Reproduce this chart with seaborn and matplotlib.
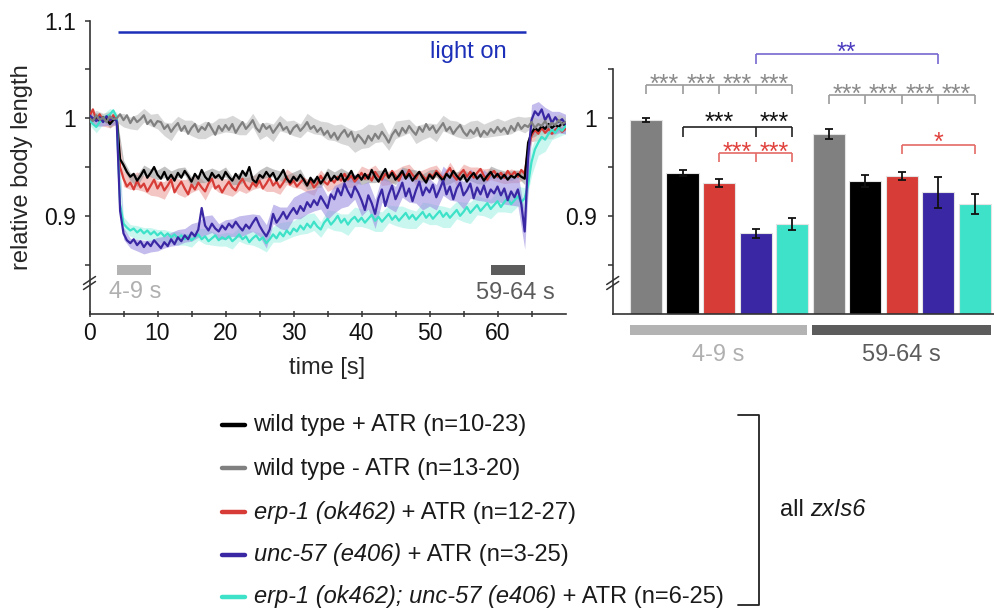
import numpy as np
import pandas as pd
import matplotlib
matplotlib.use("Agg")
import matplotlib.pyplot as plt
from matplotlib.patches import Rectangle
import seaborn as sns

# ---------------------------------------------------------------------------
# Time course of relative body length (mean per 0.5 s, 0-70 s)
# ---------------------------------------------------------------------------
gray_mean = [
    1.000, 0.997, 1.003, 0.998, 1.001, 0.996, 1.002, 0.999, 1.000,
    1.004, 0.998, 1.003, 0.995, 1.001, 0.996, 0.999, 1.003, 0.994, 0.998, 0.992, 0.997,
    0.996, 0.989, 0.993, 0.986, 0.991, 0.995, 0.987, 0.992, 0.984, 0.990, 0.994, 0.986, 0.991, 0.988, 0.995, 0.989, 0.983, 0.992, 0.987, 0.993,
    0.988, 0.994, 0.985, 0.991, 0.996, 0.989, 0.993, 0.998, 0.990, 0.986, 0.994, 0.989, 0.992, 0.985, 0.990, 0.995, 0.988, 0.991, 0.984, 0.990,
    0.993, 0.987, 0.991, 0.996, 0.989, 0.992, 0.986, 0.990, 0.983, 0.987, 0.980, 0.985, 0.978, 0.984, 0.988, 0.981, 0.986, 0.976, 0.983, 0.979,
    0.974, 0.982, 0.977, 0.984, 0.979, 0.986, 0.981, 0.975, 0.983, 0.988, 0.982, 0.990, 0.985, 0.992, 0.987, 0.983, 0.991, 0.986, 0.994, 0.988,
    0.992, 0.985, 0.990, 0.995, 0.987, 0.991, 0.984, 0.989, 0.993, 0.986, 0.982, 0.988, 0.984, 0.990, 0.981, 0.987, 0.983, 0.989, 0.985, 0.991,
    0.986, 0.990, 0.984, 0.992, 0.987, 0.995, 0.989, 0.993, 0.991, 0.996, 0.990, 0.994, 0.992, 0.997, 0.991, 0.995, 0.993, 0.998, 0.994, 0.996,
]
black_mean = [
    1.000, 0.998, 1.002, 0.997, 1.001, 0.999, 0.994, 0.998, 1.000,
    0.958, 0.952, 0.945, 0.940, 0.943, 0.936, 0.941, 0.947, 0.939, 0.944, 0.950, 0.942,
    0.938, 0.945, 0.937, 0.942, 0.936, 0.944, 0.939, 0.946, 0.941, 0.935, 0.943, 0.938, 0.947, 0.940, 0.936, 0.944, 0.939, 0.942, 0.937, 0.945,
    0.940, 0.936, 0.943, 0.938, 0.946, 0.941, 0.950, 0.937, 0.934, 0.942, 0.939, 0.945, 0.940, 0.944, 0.936, 0.941, 0.947, 0.938, 0.934, 0.940,
    0.936, 0.942, 0.937, 0.931, 0.939, 0.934, 0.940, 0.933, 0.938, 0.944, 0.936, 0.941, 0.937, 0.943, 0.935, 0.940, 0.946, 0.938, 0.942, 0.937,
    0.943, 0.938, 0.947, 0.940, 0.935, 0.942, 0.948, 0.939, 0.944, 0.937, 0.941, 0.946, 0.938, 0.943, 0.936, 0.941, 0.945, 0.939, 0.934, 0.942,
    0.938, 0.944, 0.940, 0.936, 0.943, 0.939, 0.946, 0.941, 0.937, 0.942, 0.935, 0.940, 0.944, 0.938, 0.942, 0.936, 0.941, 0.945, 0.939, 0.943,
    0.938, 0.942, 0.937, 0.941, 0.939, 0.943, 0.940, 0.938, 0.975, 0.985, 0.990, 0.987, 0.992, 0.989, 0.994, 0.990, 0.993, 0.991, 0.995, 0.992,
]
red_mean = [
    1.002, 1.009, 0.998, 1.004, 0.997, 1.001, 0.996, 1.003, 0.999,
    0.950, 0.938, 0.930, 0.934, 0.927, 0.936, 0.929, 0.933, 0.925, 0.931, 0.937, 0.928,
    0.934, 0.926, 0.931, 0.937, 0.924, 0.930, 0.935, 0.928, 0.922, 0.932, 0.927, 0.934, 0.929, 0.925, 0.933, 0.938, 0.928, 0.931, 0.924, 0.930,
    0.935, 0.929, 0.926, 0.933, 0.938, 0.931, 0.927, 0.934, 0.930, 0.936, 0.928, 0.933, 0.939, 0.931, 0.935, 0.929, 0.934, 0.940, 0.932, 0.936,
    0.930, 0.934, 0.938, 0.931, 0.936, 0.929, 0.933, 0.941, 0.935, 0.932, 0.938, 0.934, 0.940, 0.936, 0.943, 0.937, 0.941, 0.935, 0.939, 0.944,
    0.938, 0.942, 0.936, 0.945, 0.940, 0.937, 0.943, 0.939, 0.946, 0.941, 0.936, 0.944, 0.940, 0.947, 0.942, 0.938, 0.945, 0.941, 0.937, 0.943,
    0.940, 0.946, 0.942, 0.938, 0.944, 0.949, 0.941, 0.937, 0.943, 0.947, 0.940, 0.945, 0.939, 0.944, 0.948, 0.941, 0.937, 0.943, 0.946, 0.940,
    0.944, 0.939, 0.946, 0.941, 0.945, 0.940, 0.947, 0.943, 0.968, 0.982, 0.988, 0.984, 0.990, 0.985, 0.989, 0.984, 0.988, 0.991, 0.986, 0.989,
]
blue_mean = [
    1.003, 1.000, 0.997, 1.001, 0.996, 1.002, 0.998, 1.000, 0.997,
    0.905, 0.882, 0.875, 0.872, 0.876, 0.870, 0.874, 0.868, 0.873, 0.869, 0.875, 0.871,
    0.867, 0.873, 0.869, 0.876, 0.871, 0.878, 0.874, 0.880, 0.876, 0.883, 0.879, 0.886, 0.908, 0.890, 0.885, 0.892, 0.887, 0.884, 0.890, 0.886,
    0.892, 0.888, 0.894, 0.889, 0.885, 0.891, 0.887, 0.893, 0.898, 0.890, 0.884, 0.879, 0.886, 0.902, 0.893, 0.898, 0.904, 0.897, 0.903, 0.908,
    0.902, 0.910, 0.905, 0.914, 0.909, 0.916, 0.911, 0.920, 0.914, 0.908, 0.922, 0.917, 0.928, 0.921, 0.933, 0.925, 0.919, 0.930, 0.924, 0.916,
    0.906, 0.921, 0.913, 0.902, 0.918, 0.927, 0.910, 0.922, 0.931, 0.917, 0.925, 0.934, 0.920, 0.928, 0.915, 0.926, 0.935, 0.921, 0.929, 0.924,
    0.932, 0.919, 0.927, 0.936, 0.922, 0.930, 0.917, 0.928, 0.934, 0.921, 0.926, 0.933, 0.918, 0.929, 0.922, 0.931, 0.919, 0.927, 0.923, 0.930,
    0.921, 0.928, 0.916, 0.925, 0.919, 0.927, 0.912, 0.884, 0.960, 0.998, 1.007, 1.003, 1.009, 0.998, 1.004, 0.995, 1.001, 0.996, 0.999, 0.994,
]
cyan_mean = [
    0.998, 0.994, 0.991, 0.996, 0.999, 1.002, 1.004, 1.008, 1.001,
    0.912, 0.892, 0.888, 0.885, 0.887, 0.883, 0.886, 0.882, 0.885, 0.881, 0.884, 0.880,
    0.883, 0.879, 0.882, 0.878, 0.881, 0.877, 0.880, 0.876, 0.879, 0.875, 0.878, 0.881, 0.876, 0.879, 0.874, 0.877, 0.880, 0.875, 0.878, 0.876,
    0.879, 0.874, 0.877, 0.881, 0.876, 0.879, 0.873, 0.877, 0.880, 0.875, 0.878, 0.872, 0.876, 0.881, 0.877, 0.883, 0.879, 0.885, 0.881, 0.887,
    0.884, 0.890, 0.886, 0.892, 0.888, 0.894, 0.889, 0.886, 0.893, 0.897, 0.891, 0.895, 0.900, 0.893, 0.897, 0.891, 0.896, 0.899, 0.894, 0.898,
    0.893, 0.897, 0.901, 0.895, 0.899, 0.894, 0.898, 0.902, 0.896, 0.900, 0.895, 0.899, 0.903, 0.897, 0.901, 0.896, 0.900, 0.904, 0.898, 0.902,
    0.897, 0.901, 0.905, 0.899, 0.903, 0.898, 0.902, 0.906, 0.900, 0.904, 0.909, 0.903, 0.907, 0.911, 0.905, 0.909, 0.913, 0.907, 0.911, 0.915,
    0.909, 0.914, 0.918, 0.912, 0.916, 0.920, 0.914, 0.918, 0.932, 0.955, 0.968, 0.975, 0.981, 0.978, 0.984, 0.988, 0.985, 0.990, 0.987, 0.992,
]

# SEM per 1 s (0-70 s)
gray_sem = [
    0.004, 0.005, 0.004, 0.005, 0.004,
    0.007, 0.006, 0.008, 0.007, 0.006, 0.008, 0.007, 0.009, 0.007, 0.006,
    0.008, 0.007, 0.009, 0.006, 0.008, 0.007, 0.009, 0.008, 0.006, 0.007,
    0.008, 0.007, 0.009, 0.008, 0.006, 0.008, 0.007, 0.009, 0.008, 0.007,
    0.009, 0.008, 0.010, 0.009, 0.011, 0.010, 0.012, 0.009, 0.010, 0.008,
    0.009, 0.008, 0.007, 0.009, 0.008, 0.007, 0.009, 0.008, 0.007, 0.008,
    0.007, 0.009, 0.008, 0.007, 0.008, 0.009, 0.007, 0.008, 0.007, 0.008,
    0.006, 0.005, 0.006, 0.005, 0.006, 0.005,
]
black_sem = [
    0.003, 0.004, 0.003, 0.004, 0.003,
    0.005, 0.004, 0.006, 0.005, 0.004, 0.005, 0.006, 0.004, 0.005, 0.004,
    0.005, 0.004, 0.006, 0.005, 0.004, 0.005, 0.004, 0.006, 0.005, 0.004,
    0.005, 0.006, 0.004, 0.005, 0.004, 0.005, 0.006, 0.004, 0.005, 0.004,
    0.005, 0.004, 0.006, 0.005, 0.004, 0.005, 0.004, 0.006, 0.005, 0.004,
    0.005, 0.004, 0.005, 0.006, 0.004, 0.005, 0.004, 0.005, 0.006, 0.004,
    0.005, 0.004, 0.005, 0.004, 0.006, 0.005, 0.004, 0.005, 0.004, 0.006,
    0.005, 0.004, 0.005, 0.004, 0.005, 0.004,
]
red_sem = [
    0.005, 0.006, 0.005, 0.006, 0.005,
    0.008, 0.007, 0.009, 0.008, 0.010, 0.008, 0.009, 0.007, 0.008, 0.009,
    0.008, 0.007, 0.009, 0.008, 0.007, 0.008, 0.009, 0.007, 0.008, 0.007,
    0.007, 0.008, 0.006, 0.007, 0.008, 0.007, 0.006, 0.007, 0.008, 0.006,
    0.007, 0.006, 0.007, 0.008, 0.006, 0.007, 0.006, 0.007, 0.006, 0.007,
    0.006, 0.007, 0.006, 0.007, 0.006, 0.007, 0.006, 0.005, 0.006, 0.007,
    0.006, 0.005, 0.006, 0.007, 0.006, 0.005, 0.006, 0.007, 0.006, 0.005,
    0.006, 0.007, 0.006, 0.005, 0.006, 0.005,
]
blue_sem = [
    0.004, 0.005, 0.004, 0.005, 0.004,
    0.006, 0.005, 0.006, 0.007, 0.006, 0.007, 0.006, 0.007, 0.008, 0.007,
    0.009, 0.008, 0.010, 0.009, 0.008, 0.010, 0.009, 0.011, 0.010, 0.009,
    0.011, 0.012, 0.010, 0.011, 0.012, 0.011, 0.013, 0.012, 0.011, 0.013,
    0.012, 0.014, 0.013, 0.015, 0.013, 0.016, 0.014, 0.015, 0.013, 0.014,
    0.013, 0.015, 0.014, 0.013, 0.015, 0.014, 0.013, 0.015, 0.014, 0.013,
    0.014, 0.015, 0.013, 0.016, 0.014, 0.015, 0.016, 0.014, 0.017, 0.018,
    0.016, 0.014, 0.013, 0.012, 0.011, 0.010,
]
cyan_sem = [
    0.005, 0.006, 0.005, 0.006, 0.005,
    0.007, 0.006, 0.007, 0.006, 0.007, 0.006, 0.007, 0.006, 0.007, 0.006,
    0.007, 0.006, 0.008, 0.007, 0.006, 0.007, 0.008, 0.007, 0.008, 0.007,
    0.008, 0.009, 0.008, 0.010, 0.009, 0.008, 0.009, 0.010, 0.009, 0.008,
    0.009, 0.010, 0.009, 0.011, 0.010, 0.009, 0.010, 0.011, 0.010, 0.009,
    0.010, 0.011, 0.010, 0.009, 0.010, 0.011, 0.010, 0.011, 0.010, 0.009,
    0.010, 0.011, 0.010, 0.009, 0.010, 0.011, 0.010, 0.009, 0.010, 0.011,
    0.014, 0.013, 0.012, 0.010, 0.009, 0.008,
]

light_window = [4.2, 64.2]          # s, illumination period
early_window = [4, 9]               # s
late_window = [59, 64]              # s

# ---------------------------------------------------------------------------
# Mean relative body length in the two analysis windows
# ---------------------------------------------------------------------------
bar_strains = ["wt_noATR", "wt", "erp1", "unc57", "double"]
early_means = [0.998, 0.944, 0.934, 0.882, 0.892]
early_sems = [0.002, 0.003, 0.004, 0.005, 0.006]
late_means = [0.984, 0.936, 0.941, 0.924, 0.912]
late_sems = [0.005, 0.006, 0.004, 0.016, 0.010]
window_labels = ["4-9 s", "59-64 s"]

colors = {
    "wt": "#000000",
    "wt_noATR": "#808080",
    "erp1": "#d73c37",
    "unc57": "#3a27a4",
    "double": "#3de2c8",
}
band_colors = {
    "wt": "#9a9a9a",
    "wt_noATR": "#bdbdbd",
    "erp1": "#eca09d",
    "unc57": "#9c90e0",
    "double": "#a6f2e6",
}

legend_rows = [
    ("wt", [("wild type + ATR (n=10-23)", False)]),
    ("wt_noATR", [("wild type - ATR (n=13-20)", False)]),
    ("erp1", [("erp-1 (ok462)", True), (" + ATR (n=12-27)", False)]),
    ("unc57", [("unc-57 (e406)", True), (" + ATR (n=3-25)", False)]),
    ("double", [("erp-1 (ok462); unc-57 (e406)", True), (" + ATR (n=6-25)", False)]),
]

# ---------------------------------------------------------------------------
sns.set_theme(style="ticks")
plt.rcParams["font.family"] = ["Liberation Sans", "DejaVu Sans"]
plt.rcParams["axes.edgecolor"] = "#333333"
plt.rcParams["axes.linewidth"] = 1.2
plt.rcParams["xtick.color"] = "#333333"
plt.rcParams["ytick.color"] = "#333333"
plt.rcParams["xtick.labelcolor"] = "#111111"
plt.rcParams["ytick.labelcolor"] = "#111111"
plt.rcParams["text.color"] = "#1a1a1a"

W, H = 995, 610
fig = plt.figure(figsize=(W / 100, H / 100), dpi=100)


def fx(px):
    return px / W


def fy(py):
    return 1 - py / H


AX_TOP, AX_BOT = 20.5, 313.5
ax = fig.add_axes([fx(89.5), fy(AX_BOT), (565.5 - 89.5) / W, (AX_BOT - AX_TOP) / H])
axb = fig.add_axes([fx(612.7), fy(AX_BOT), 1 - fx(612.7), (AX_BOT - AX_TOP) / H])

# ---- time course --------------------------------------------------------
t = np.arange(0, 70.5, 0.5)
t_band = np.arange(0, 71, 1)
means = {"wt_noATR": gray_mean, "wt": black_mean, "erp1": red_mean,
         "unc57": blue_mean, "double": cyan_mean}
sems = {"wt_noATR": gray_sem, "wt": black_sem, "erp1": red_sem,
        "unc57": blue_sem, "double": cyan_sem}
draw_order = ["erp1", "wt", "double", "unc57", "wt_noATR"]

for key in draw_order:
    m = np.asarray(means[key])[::2]
    s = np.asarray(sems[key])
    ax.fill_between(t_band, m - s, m + s, color=band_colors[key], alpha=0.6,
                    lw=0, zorder=1)

trace_df = pd.concat(
    [pd.DataFrame({"time": t, "length": means[k], "strain": k}) for k in draw_order],
    ignore_index=True,
)
sns.lineplot(data=trace_df, x="time", y="length", hue="strain", hue_order=draw_order,
             palette=colors, linewidth=1.6, legend=False, errorbar=None,
             estimator=None, sort=False, ax=ax, zorder=3)

light_col = "#1c2fb8"
ax.plot(light_window, [1.088, 1.088], color=light_col, lw=1.8, solid_capstyle="butt")
ax.text(61.4, 1.0675, "light on", color=light_col, fontsize=17, ha="right", va="center")

ax.add_patch(Rectangle((early_window[0], 0.8394), early_window[1] - early_window[0], 0.0102,
                       color="#b3b3b3", lw=0))
ax.add_patch(Rectangle((late_window[0], 0.8394), late_window[1] - late_window[0], 0.0102,
                       color="#5c5c5c", lw=0))
ax.text(6.7, 0.8221, window_labels[0], color="#b0b0b0", fontsize=17, ha="center", va="center")
ax.text(62.7, 0.8211, window_labels[1], color="#5c5c5c", fontsize=17, ha="center", va="center")

ax.set_xlim(0, 70)
ax.set_ylim(0.8, 1.1)
ax.set_xticks([0, 10, 20, 30, 40, 50, 60])
ax.set_xticks([5, 15, 25, 35, 45, 55, 65], minor=True)
ax.set_yticks([0.9, 1.0, 1.1])
ax.set_yticklabels(["0.9", "1", "1.1"])
ax.set_yticks([0.85, 0.95, 1.05], minor=True)
ax.tick_params(axis="x", which="both", direction="inout", length=4, width=1.1,
               labelsize=16.5, pad=4)
ax.tick_params(axis="y", which="both", direction="out", length=3.5, width=1.1,
               labelsize=16.5, pad=6)
ax.set_xlabel("time [s]", fontsize=17)
ax.set_ylabel("relative body length", fontsize=17)
ax.xaxis.set_label_coords(0.5, -0.147)
ax.yaxis.set_label_coords(-0.1195, 0.5)
sns.despine(ax=ax)

# ---- bar chart ----------------------------------------------------------
slots = [f"{w}|{s}" for w in window_labels for s in bar_strains]
bar_df = pd.DataFrame({
    "slot": slots,
    "value": early_means + late_means,
    "sem": early_sems + late_sems,
    "strain": bar_strains + bar_strains,
})
sns.barplot(data=bar_df, x="slot", y="value", hue="strain", order=slots,
            hue_order=bar_strains, palette=colors, dodge=False, width=0.877,
            saturation=1, errorbar=None, legend=False, edgecolor="#e4e4e4",
            linewidth=0.8, ax=axb)
axb.errorbar(np.arange(len(slots)), bar_df["value"], yerr=bar_df["sem"], fmt="none",
             ecolor="#111111", elinewidth=1.3, capsize=3, capthick=1.3, zorder=4)

axb.set_xlim(-0.912, 9.56)
axb.set_ylim(0.8, 1.1)
axb.set_xticks([])
axb.set_xlabel("")
axb.set_ylabel("")
axb.set_yticks([0.9, 1.0])
axb.set_yticklabels(["0.9", "1"])
axb.set_yticks([0.85, 0.95, 1.05], minor=True)
axb.tick_params(axis="y", which="both", direction="out", length=3.5, width=1.1,
                labelsize=16.5, pad=7.5)
sns.despine(ax=axb)
axb.spines["left"].set_bounds(0.8, 1.05)

# window indicator strips under the bars
xt = axb.get_xaxis_transform()
axb.add_patch(Rectangle((-0.44, -0.0734), 4.85, 0.0342, transform=xt, color="#b3b3b3",
                        lw=0, clip_on=False))
axb.add_patch(Rectangle((4.55, -0.0734), 4.90, 0.0342, transform=xt, color="#5c5c5c",
                        lw=0, clip_on=False))
axb.text(1.97, -0.1416, window_labels[0], transform=xt, color="#b0b0b0", fontsize=17,
         ha="center", va="center")
axb.text(7.0, -0.1416, window_labels[1], transform=xt, color="#5c5c5c", fontsize=17,
         ha="center", va="center")


def bracket(xs, y_top, y_low, color):
    axb.plot([min(xs), max(xs)], [y_top, y_top], color=color, lw=1.2, clip_on=False,
             solid_capstyle="butt")
    for x in xs:
        axb.plot([x, x], [y_low, y_top], color=color, lw=1.2, clip_on=False,
                 solid_capstyle="butt")


def stars(x, y_center, s, color):
    axb.text(x, y_center - 0.0150, s, ha="center", va="baseline", fontsize=18,
             color=color, clip_on=False)


gray_b, gray_s = "#9b9b9b", "#8a8a8a"
bracket([0, 1, 2, 3, 4], 1.0337, 1.0245, gray_b)
for x in [0.5, 1.5, 2.5, 3.5]:
    stars(x, 1.042, "***", gray_s)
bracket([5, 6, 7, 8, 9], 1.0235, 1.0143, gray_b)
for x in [5.5, 6.5, 7.5, 8.5]:
    stars(x, 1.0316, "***", gray_s)

bracket([3, 8], 1.0653, 1.055, "#7767cf")
stars(5.5, 1.0745, "**", "#4b3cc0")

bracket([1, 3, 4], 0.9908, 0.9806, "#222222")
stars(2.0, 1.003, "***", "#111111")
stars(3.5, 1.003, "***", "#111111")

bracket([2, 3, 4], 0.9643, 0.955, "#e36a66")
stars(2.5, 0.9724, "***", "#e0413c")
stars(3.5, 0.9724, "***", "#e0413c")

bracket([7, 9], 0.9724, 0.9633, "#e36a66")
stars(8.0, 0.9827, "*", "#e0413c")

# ---- overlay in pixel coordinates: axis breaks, legend ------------------
ov = fig.add_axes([0, 0, 1, 1])
ov.set_xlim(0, W)
ov.set_ylim(H, 0)
ov.axis("off")

for xc in (89.5, 612.7):
    for dy in (-2.5, 2.5):
        ov.plot([xc - 6, xc + 6], [283 + dy + 4, 283 + dy - 4], color="#333333", lw=1.1)

row_y = [425, 468, 512, 555, 597]
for (key, pieces), yc in zip(legend_rows, row_y):
    ov.plot([222, 245], [yc, yc], color=colors[key], lw=3.2, solid_capstyle="round")
    base = yc + 6.5
    prev = None
    for txt, ital in pieces:
        style = "italic" if ital else "normal"
        if prev is None:
            prev = ov.text(253.5, base, txt, fontsize=17, style=style, ha="left",
                           va="baseline")
        else:
            prev = ov.annotate(txt, xy=(1, base), xycoords=(prev, "data"), fontsize=17,
                               style=style, ha="left", va="baseline")

ov.plot([738, 759, 759, 738], [415, 415, 605, 605], color="#222222", lw=1.3)
first = ov.text(780, 516, "all ", fontsize=17, ha="left", va="baseline")
ov.annotate("zxIs6", xy=(1, 516), xycoords=(first, "data"), fontsize=17,
            style="italic", ha="left", va="baseline")

fig.savefig("out.png", dpi=100)
